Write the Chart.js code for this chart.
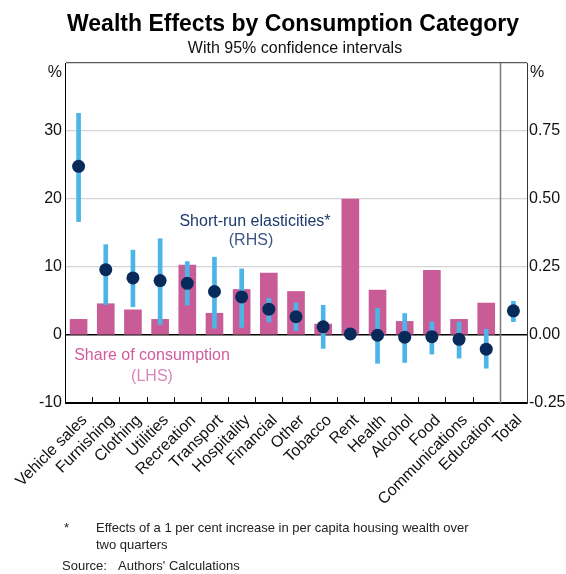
<!DOCTYPE html>
<html>
<head>
<meta charset="utf-8">
<script src="https://cdn.jsdelivr.net/npm/chart.js@4"></script>
<style>
  html, body { margin: 0; padding: 0; background: #fff; }
  #wrap { width: 566px; height: 574px; position: relative; }
</style>
</head>
<body>
<div id="wrap"><canvas id="chart" width="566" height="574"></canvas></div>
<script>
// Consumption categories (Total sits in its own panel on the right)
const categories = ['Vehicle sales', 'Furnishing', 'Clothing', 'Utilities', 'Recreation', 'Transport',
  'Hospitality', 'Financial', 'Other', 'Tobacco', 'Rent', 'Health', 'Alcohol', 'Food',
  'Communications', 'Education', 'Total'];

// Share of consumption, per cent (LHS)
const consumptionShare = [2.3, 4.6, 3.7, 2.3, 10.3, 3.2, 6.7, 9.1, 6.4, 1.6, 20.0, 6.6, 2.0, 9.5, 2.3, 4.7, null];

// Short-run elasticities, per cent (RHS)
const elasticity = [0.62, 0.24, 0.21, 0.20, 0.19, 0.16, 0.14, 0.095, 0.067, 0.03, 0.004, -0.001, -0.008, -0.006, -0.016, -0.052, 0.089];

// 95% confidence interval bounds for the elasticities
const ciLow  = [0.417, 0.112, 0.104, 0.039, 0.11, 0.025, 0.028, 0.048, 0.016, -0.049, -0.01, -0.104, -0.101, -0.07, -0.085, -0.122, 0.049];
const ciHigh = [0.815, 0.332, 0.312, 0.354, 0.27, 0.286, 0.243, 0.135, 0.118, 0.109, 0.02, 0.098, 0.079, 0.048, 0.048, 0.021, 0.124];

// Axis ranges
const lhsRange = { min: -10, max: 40, step: 10 };
const rhsRange = { min: -0.25, max: 1.0, step: 0.25 };

const FONT = 'Arial, "Liberation Sans", Helvetica, sans-serif';

// Texts, annotations and the inner tick marks / panel divider
const decorations = {
  id: 'decorations',
  beforeDatasetsDraw(chart) {
    const { ctx, chartArea: a, scales: { x } } = chart;
    ctx.save();
    // small ticks pointing up from the bottom axis, between categories
    ctx.strokeStyle = '#000';
    ctx.lineWidth = 1;
    for (let i = 0; i < categories.length - 2; i++) {
      const px = Math.round((x.getPixelForValue(i) + x.getPixelForValue(i + 1)) / 2) + 0.5;
      ctx.beginPath();
      ctx.moveTo(px, a.bottom);
      ctx.lineTo(px, a.bottom - 6);
      ctx.stroke();
    }
    // divider before the Total panel
    const n = categories.length;
    const dx = Math.round((x.getPixelForValue(n - 2) + x.getPixelForValue(n - 1)) / 2) + 0.5;
    ctx.strokeStyle = '#7a7a7a';
    ctx.lineWidth = 1.5;
    ctx.beginPath();
    ctx.moveTo(dx, a.top);
    ctx.lineTo(dx, a.bottom);
    ctx.stroke();
    ctx.restore();
  },
  afterDraw(chart) {
    const { ctx, chartArea: a } = chart;
    ctx.save();
    ctx.textAlign = 'center';
    ctx.textBaseline = 'alphabetic';
    ctx.fillStyle = '#000';
    ctx.font = 'bold 23px ' + FONT;
    ctx.fillText('Wealth Effects by Consumption Category', 293, 31);
    ctx.font = '16px ' + FONT;
    ctx.fillStyle = '#111';
    ctx.fillText('With 95% confidence intervals', 295, 53);

    // unit labels
    ctx.font = '16px ' + FONT;
    ctx.fillStyle = '#111';
    ctx.textAlign = 'right';
    ctx.fillText('%', a.left - 3, a.top + 14);
    ctx.textAlign = 'left';
    ctx.fillText('%', a.right + 3, a.top + 14);

    // series annotations
    ctx.textAlign = 'center';
    ctx.font = '16px ' + FONT;
    ctx.fillStyle = '#1c3a6b';
    ctx.fillText('Short-run elasticities*', 255, 226);
    ctx.fillStyle = '#3d5684';
    ctx.fillText('(RHS)', 251, 245);
    ctx.fillStyle = '#d05c9e';
    ctx.fillText('Share of consumption', 152, 360);
    ctx.fillStyle = '#d987b9';
    ctx.fillText('(LHS)', 152, 381);

    // footnotes
    ctx.textAlign = 'left';
    ctx.font = '13px ' + FONT;
    ctx.fillStyle = '#222';
    ctx.fillText('*', 64, 532);
    ctx.fillText('Effects of a 1 per cent increase in per capita housing wealth over', 96, 532);
    ctx.fillText('two quarters', 96, 549);
    ctx.fillText('Source:', 62, 570);
    ctx.fillText("Authors' Calculations", 118, 570);
    ctx.restore();
  }
};

const gridColor = (v) => {
  if (v === 0 || v === lhsRange.min) return '#000';
  if (v === lhsRange.max) return '#5a5a5a';
  return '#d4d4d4';
};

new Chart(document.getElementById('chart'), {
  type: 'bar',
  data: {
    labels: categories,
    datasets: [
      {
        type: 'line',
        label: 'Short-run elasticities',
        data: elasticity,
        yAxisID: 'y1',
        showLine: false,
        pointRadius: 6.5,
        pointBackgroundColor: '#082a5a',
        pointBorderColor: '#082a5a',
        pointBorderWidth: 0,
        order: 0
      },
      {
        type: 'bar',
        label: '95% confidence interval',
        data: ciLow.map((lo, i) => [lo, ciHigh[i]]),
        yAxisID: 'y1',
        backgroundColor: '#4db4e8',
        barThickness: 4,
        grouped: false,
        order: 1
      },
      {
        type: 'bar',
        label: 'Share of consumption',
        data: consumptionShare,
        yAxisID: 'y',
        backgroundColor: '#c95c97',
        barThickness: 17,
        grouped: false,
        order: 2
      }
    ]
  },
  options: {
    responsive: false,
    animation: false,
    devicePixelRatio: 1,
    layout: { padding: { top: 63, left: 0, right: 0, bottom: 0 }, autoPadding: false },
    plugins: { legend: { display: false }, tooltip: { enabled: false }, title: { display: false } },
    scales: {
      x: {
        offset: true,
        grid: { display: false, drawTicks: false },
        border: { color: '#000', width: 1 },
        ticks: {
          autoSkip: false,
          minRotation: 45,
          maxRotation: 45,
          padding: 8,
          labelOffset: 6,
          color: '#111',
          font: { family: FONT, size: 16 }
        },
        afterFit: (s) => { s.height = 171; }
      },
      y: {
        position: 'left',
        min: lhsRange.min,
        max: lhsRange.max,
        grid: {
          drawTicks: false,
          color: (c) => gridColor(c.tick.value),
          lineWidth: (c) => (c.tick.value === 0 ? 1.5 : 1.2)
        },
        border: { color: '#000', width: 1 },
        ticks: {
          stepSize: lhsRange.step,
          padding: 3,
          color: '#111',
          font: { family: FONT, size: 16 },
          callback: (v) => (v === lhsRange.max ? '' : v)
        },
        afterFit: (s) => { s.width = 65; }
      },
      y1: {
        position: 'right',
        min: rhsRange.min,
        max: rhsRange.max,
        grid: { display: false, drawTicks: false },
        border: { color: '#333', width: 1 },
        ticks: {
          stepSize: rhsRange.step,
          padding: 2,
          color: '#111',
          font: { family: FONT, size: 16 },
          callback: (v) => (v === rhsRange.max ? '' : v.toFixed(2))
        },
        afterFit: (s) => { s.width = 39; }
      }
    }
  },
  plugins: [decorations]
});
</script>
</body>
</html>
